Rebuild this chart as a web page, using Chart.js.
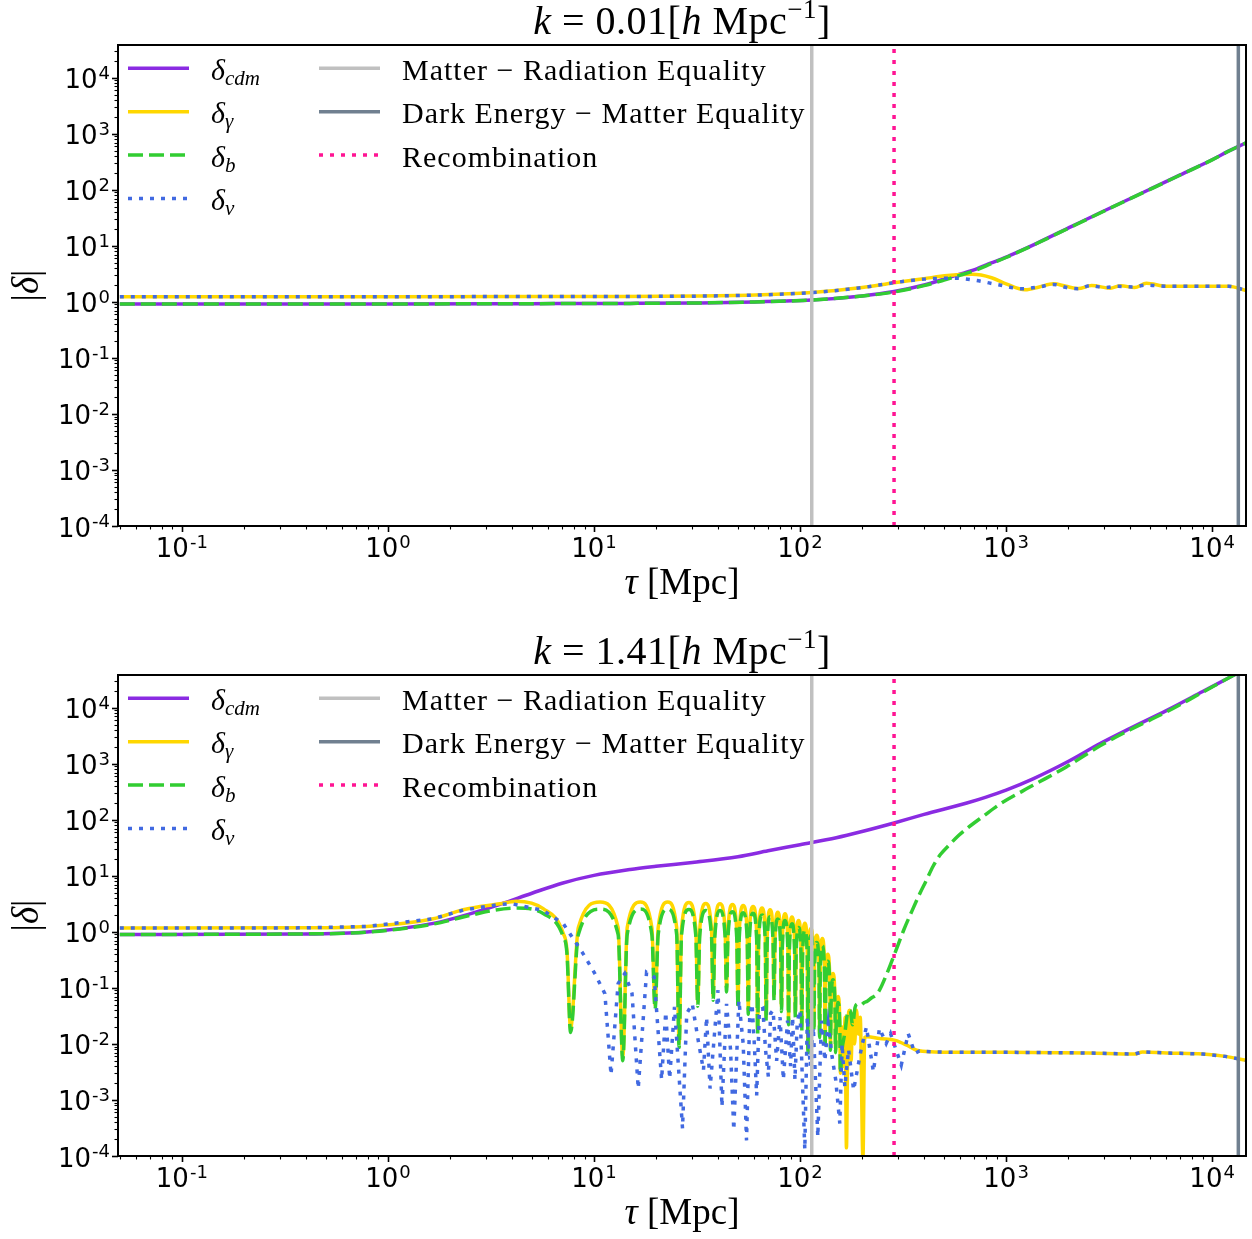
<!DOCTYPE html>
<html>
<head>
<meta charset="utf-8">
<script src="https://cdn.jsdelivr.net/npm/chart.js@4.4.1/dist/chart.umd.min.js"></script>
<style>
  body { margin: 0; background: #fff; }
  canvas { display: block; }
</style>
</head>
<body>
<canvas id="topChart" width="1252" height="630"></canvas>
<canvas id="bottomChart" width="1252" height="609"></canvas>
<script>
// axis ranges and labelled decades
const tauRange = [0.049, 1.46e4];
const deltaRange = [1e-4, 3.85e4];
const tauTickExps = [-1, 0, 1, 2, 3, 4];
const deltaTickExps = [-4, -3, -2, -1, 0, 1, 2, 3, 4];

// epochs in conformal time [Mpc]
const tauEquality = 114;
const tauRecombination = 286;
const tauLambda = 1.34e4;

// ---- k = 0.01 h/Mpc ----
const tauTopCdm = [0.05, 1, 5, 15, 33, 60, 114, 200, 286, 400, 500, 608, 720, 841, 1000, 1150, 1400,
  2070, 2860, 4230, 5000, 7000, 10000, 12000, 14600];
const deltaTopCdm = [0.92, 0.92, 0.93, 0.94, 0.96, 1.0, 1.08, 1.28, 1.53, 2.0, 2.55, 3.2, 3.9, 4.9, 6.3, 7.9, 11,
  22, 39, 77, 103, 185, 345, 490, 690];
const deltaTopB = [0.92, 0.92, 0.93, 0.94, 0.96, 1.0, 1.08, 1.27, 1.5, 1.95, 2.45, 3.05, 3.75, 4.75, 6.2, 7.8, 10.9,
  21.8, 38.6, 76.5, 102, 184, 343, 488, 688];

const tauTopGamma = [0.05, 1, 10, 33, 114, 200, 286, 400, 520, 684, 850, 1000, 1237, 1450, 1700,
  1950, 2240, 2600, 3200, 3600, 4200, 4800, 6000, 12000, 14600];
const deltaTopGamma = [1.24, 1.24, 1.25, 1.27, 1.47, 1.8, 2.2, 2.6, 2.95, 3.1, 2.7, 2.1, 1.64, 1.85, 2.1,
  1.9, 1.73, 1.96, 1.75, 1.95, 1.8, 2.15, 1.9, 1.9, 1.6];

const tauTopNu = [0.05, 1, 10, 33, 114, 200, 286, 400, 560, 700, 930, 1200, 1450, 1700, 1970,
  2230, 2560, 3000, 3500, 4100, 4800, 6000, 12000, 14600];
const deltaTopNu = [1.24, 1.24, 1.25, 1.27, 1.47, 1.8, 2.2, 2.55, 2.65, 2.45, 2.0, 1.72, 1.85, 2.05, 1.8,
  1.72, 1.95, 1.8, 1.9, 1.85, 2.0, 1.9, 1.9, 1.6];

// ---- k = 1.41 h/Mpc ----
const tauBotCdm = [0.05, 0.37, 0.79, 1.66, 2.5, 3.5, 5, 7, 10, 15, 20, 30, 50, 70, 100, 150, 200, 286,
  400, 645, 800, 1000, 1352, 2000, 2860, 4000, 6030, 9000, 12700, 14600];
const deltaBotCdm = [0.9, 0.92, 1.0, 1.42, 2.1, 3.1, 4.9, 7.4, 10.2, 13, 14.8, 17.4, 22, 28, 36, 48, 62, 88,
  125, 200, 255, 340, 540, 1100, 2300, 4300, 9000, 1.95e4, 3.8e4, 5.0e4];

// acoustic lobes: dip, shoulder, crest, shoulder
const tauLobes = [
  7.7, 8.4, 10.7, 13.1,    13.8, 14.5, 16.8, 19.1,    19.8, 20.5, 22.8, 25.2,
  25.9, 26.6, 28.9, 31.2,  31.9, 32.6, 34.9, 37.2,    37.9, 38.6, 40.9, 43.3,
  44.0, 44.7, 47.0, 49.3,  50.0, 50.7, 53.0, 55.4,    56.1, 56.8, 59.2, 61.6,
  62.3, 63.0, 65.4, 67.8,  68.5, 69.3, 71.6, 74.0,    74.8, 75.6, 78.0, 80.5,
  81.3, 82.1, 84.6, 87.2,  88.0, 88.8, 91.4, 94.1,    94.9, 95.8, 98.4, 101.1,
  102.0, 102.9, 105.6, 108.4, 109.3, 110.2, 113.0, 115.9, 116.8, 117.7, 120.6, 123.6,
  124.5, 125.4, 128.4, 131.4, 132.4, 133.4, 136.4, 139.5, 140.5, 141.5, 144.6, 147.8,
  148.8, 149.8, 153.0, 156.0];
const gammaLobes = [
  0.019, 1.2, 3.4, 1.2,    0.0058, 1.2, 3.4, 1.2,     0.049, 1.2, 3.4, 1.2,
  0.0102, 1.15, 3.35, 1.15, 0.055, 1.1, 3.2, 1.1,     0.07, 1.1, 3.18, 1.1,
  0.1, 1.05, 3.09, 1.05,   0.05, 1.0, 2.97, 1.0,      0.04, 1.0, 2.85, 1.0,
  0.018, 0.92, 2.66, 0.92, 0.03, 0.86, 2.49, 0.86,    0.07, 0.78, 2.25, 0.78,
  0.045, 0.73, 2.11, 0.73, 0.026, 0.64, 1.84, 0.64,   0.035, 0.56, 1.6, 0.56,
  0.02, 0.5, 1.43, 0.5,    0.008, 0.4, 1.15, 0.4,     0.02, 0.3, 0.87, 0.3,
  0.015, 0.26, 0.76, 0.26, 0.01, 0.14, 0.4, 0.14,     0.009, 0.063, 0.18, 0.063,
  0.008, 0.025, 0.07, 0.025];
const baryonLobes = [
  0.016, 0.9, 2.55, 0.9,   0.005, 0.9, 2.55, 0.9,     0.042, 0.9, 2.55, 0.9,
  0.0087, 0.87, 2.5, 0.87, 0.047, 0.83, 2.4, 0.83,    0.06, 0.83, 2.4, 0.83,
  0.085, 0.8, 2.3, 0.8,    0.043, 0.77, 2.2, 0.77,    0.034, 0.75, 2.15, 0.75,
  0.015, 0.7, 2.0, 0.7,    0.026, 0.65, 1.87, 0.65,   0.06, 0.6, 1.7, 0.6,
  0.038, 0.55, 1.6, 0.55,  0.022, 0.48, 1.4, 0.48,    0.03, 0.42, 1.2, 0.42,
  0.017, 0.37, 1.07, 0.37, 0.007, 0.3, 0.86, 0.3,     0.017, 0.23, 0.65, 0.23,
  0.013, 0.2, 0.57, 0.2,   0.0085, 0.1, 0.3, 0.1,     0.0077, 0.05, 0.14, 0.05,
  0.007, 0.02, 0.055, 0.02];

const tauGammaHead = [0.05, 0.37, 0.79, 1.66, 2.32, 3.5, 4.2, 5.67, 7.1, 7.4];
const gammaHead = [1.17, 1.18, 1.25, 1.72, 2.49, 3.18, 3.54, 2.6, 0.93, 0.45];
const tauGammaTail = [157, 160, 163, 165.5, 168, 171, 174, 177, 180, 184, 188, 192, 196, 202, 206,
  212, 243, 290, 330, 368, 450, 535, 1000, 2500, 4200, 4600, 6000, 9000, 11600, 14600];
const gammaTail = [0.003, 0.02, 0.004, 0.03, 1.4e-4, 0.025, 0.04, 0.005, 0.035, 0.01, 0.04, 0.015, 0.03, 9e-5, 0.013,
  0.0135, 0.0125, 0.0116, 0.0095, 0.0077, 0.0072, 0.0071, 0.0071, 0.0069, 0.0066, 0.0072, 0.0069, 0.0066, 0.006, 0.0051];

const tauBaryonHead = [0.05, 0.37, 0.79, 1.66, 2.32, 3.2, 4.2, 5.7, 7.1, 7.4];
const baryonHead = [0.9, 0.92, 0.99, 1.38, 1.84, 2.4, 2.66, 2.1, 0.81, 0.4];
const tauBaryonTail = [157, 160, 165, 170, 175, 180, 185, 191, 198, 205, 212, 222, 233, 243, 262,
  290, 318, 350, 381, 410, 443, 480, 535, 590, 645, 777, 941, 1352, 1960, 2860, 4000, 6030, 9000, 12700, 14600];
const baryonTail = [0.003, 0.008, 0.0155, 0.035, 0.04, 0.022, 0.045, 0.052, 0.05, 0.055, 0.058, 0.066, 0.074, 0.091, 0.168,
  0.436, 1.06, 2.4, 4.8, 8.3, 15, 24, 37, 53, 70, 117, 195, 413, 880, 2100, 4050, 8500, 1.9e4, 3.8e4, 5.0e4];

const tauBotNu = [0.05, 0.37, 0.79, 1.66, 2.32, 3.5, 4.0, 5.67, 7.1, 8.85,
  10.1, 11.3, 12.1, 13.1, 14.1, 15.3, 16.4, 18.0, 19.6, 21.3,
  22.3, 23.3, 24.6, 26.9, 28.2, 30.0, 32.0, 34.0, 35.2, 36.6,
  40.0, 41.8, 44.0, 46.0, 47.7, 50.5, 53.0, 55.0, 57.0, 58.5,
  60.0, 61.6, 63.5, 66.0, 68.0, 70.2, 72.0, 74.0, 77.0, 80.0,
  83.0, 87.0, 90.0, 92.0, 94.5, 97.0, 100.0, 105.5, 108.5, 112,
  116, 122, 127, 132, 137, 143, 149, 156, 160, 165,
  172, 182, 199, 210, 227, 243, 262, 275, 310, 335,
  361, 380, 450, 535, 1000, 2500, 4200, 4600, 6000, 9000,
  11600, 14600];
const deltaBotNu = [1.17, 1.18, 1.25, 1.72, 2.45, 3.1, 3.18, 2.42, 1.4, 0.41,
  0.18, 0.079, 0.0028, 0.12, 0.18, 0.08, 0.0016, 0.19, 0.156, 0.0023,
  0.037, 0.0024, 0.046, 3.1e-4, 0.035, 0.052, 0.012, 0.0034, 0.03, 0.0016,
  0.091, 7.6e-4, 0.052, 0.008, 2.9e-4, 0.06, 0.01, 1.9e-4, 0.03, 0.052,
  0.01, 0.0012, 0.04, 0.043, 0.008, 0.0026, 0.035, 0.04, 0.005, 0.03,
  0.0023, 0.026, 0.004, 0.03, 0.0023, 0.025, 0.04, 1.3e-4, 0.03, 0.004,
  0.02, 2.2e-4, 0.026, 0.005, 0.023, 0.006, 0.0023, 3.8e-4, 0.01, 0.0017,
  0.008, 0.0015, 0.0088, 0.02, 0.0032, 0.019, 0.0102, 0.0153, 0.0042, 0.0153,
  0.0068, 0.0075, 0.0072, 0.0071, 0.0071, 0.0069, 0.0066, 0.0072, 0.0069, 0.0066,
  0.006, 0.0051];

const colors = {
  cdm: '#8a2be2', gamma: '#ffd700', b: '#32cd32', nu: '#4169e1',
  eq: '#c0c0c0', lambda: '#708090', rec: '#ff1493'
};
const LW = 3.5;
const DASH = [15, 6];
const DOT = [4, 7];
const SERIF = '"Liberation Serif", "DejaVu Serif", serif';
const SANS = '"DejaVu Sans", sans-serif';

function pts(taus, vals) {
  return taus.map((t, i) => ({ x: t, y: vals[i] }));
}

function curve(taus, vals, color, dash, order, smooth) {
  return {
    data: pts(taus, vals),
    borderColor: color,
    borderWidth: LW,
    borderDash: dash,
    pointRadius: 0,
    fill: false,
    order: order,
    clip: 0,
    tension: 0,
    cubicInterpolationMode: smooth ? 'monotone' : 'default'
  };
}

function vline(tau, color, dash, order) {
  return curve([tau, tau], deltaRange, color, dash, order, false);
}

function fontFor(s) {
  return (s.italic ? 'italic ' : '') + s.size + 'px ' + SERIF;
}
function richWidth(ctx, segs) {
  let w = 0;
  for (const s of segs) { ctx.font = fontFor(s); w += ctx.measureText(s.t).width; }
  return w;
}
function drawRich(ctx, segs, x, y, center) {
  let cx = center ? x - richWidth(ctx, segs) / 2 : x;
  for (const s of segs) {
    ctx.font = fontFor(s);
    ctx.fillText(s.t, cx, y + (s.dy || 0));
    cx += ctx.measureText(s.t).width;
  }
}

// major/minor tick marks on a log axis, pointing outwards
function logTicks(ctx, scale, area, horizontal) {
  const lo = Math.floor(Math.log10(scale.min));
  const hi = Math.ceil(Math.log10(scale.max));
  ctx.strokeStyle = '#000';
  for (let e = lo; e <= hi; e++) {
    for (let m = 1; m < 10; m++) {
      const v = m * Math.pow(10, e);
      if (v < scale.min || v > scale.max) continue;
      const p = Math.round(scale.getPixelForValue(v)) + 0.5;
      const len = m === 1 ? 6 : 3.5;
      ctx.lineWidth = m === 1 ? 1.6 : 1.1;
      ctx.beginPath();
      if (horizontal) { ctx.moveTo(p, area.bottom); ctx.lineTo(p, area.bottom + len); }
      else { ctx.moveTo(area.left, p); ctx.lineTo(area.left - len, p); }
      ctx.stroke();
    }
  }
}

// "10" with a raised exponent at each labelled decade
function decadeLabels(ctx, scale, area, exps, horizontal) {
  ctx.fillStyle = '#000';
  for (const e of exps) {
    const p = scale.getPixelForValue(Math.pow(10, e));
    const sup = e < 0 ? '-' + (-e) : String(e);
    ctx.font = '26px ' + SANS;
    const wb = ctx.measureText('10').width;
    ctx.font = '18px ' + SANS;
    const we = ctx.measureText(sup).width;
    let x0, base;
    if (horizontal) { x0 = p - (wb + we + 1) / 2; base = area.bottom + 31; }
    else { x0 = area.left - 8 - (wb + we + 1); base = p + 10.5; }
    ctx.font = '26px ' + SANS;
    ctx.fillText('10', x0, base);
    ctx.font = '18px ' + SANS;
    ctx.fillText(sup, x0 + wb + 1, base - 9.5);
  }
}

// legend entries: column, row, colour, dash, label
const legendItems = [
  { col: 0, row: 0, color: colors.cdm, dash: [], sub: 'cdm' },
  { col: 0, row: 1, color: colors.gamma, dash: [], sub: 'γ' },
  { col: 0, row: 2, color: colors.b, dash: DASH, sub: 'b' },
  { col: 0, row: 3, color: colors.nu, dash: DOT, sub: 'ν' },
  { col: 1, row: 0, color: colors.eq, dash: [], text: 'Matter − Radiation Equality' },
  { col: 1, row: 1, color: colors.lambda, dash: [], text: 'Dark Energy − Matter Equality' },
  { col: 1, row: 2, color: colors.rec, dash: DOT, text: 'Recombination' }
];

const decor = {
  id: 'decor',
  afterDraw(chart, args, opts) {
    const ctx = chart.ctx;
    const a = chart.chartArea;
    ctx.save();
    logTicks(ctx, chart.scales.x, a, true);
    logTicks(ctx, chart.scales.y, a, false);
    decadeLabels(ctx, chart.scales.x, a, tauTickExps, true);
    decadeLabels(ctx, chart.scales.y, a, deltaTickExps, false);
    ctx.lineWidth = 2;
    ctx.strokeStyle = '#000';
    ctx.setLineDash([]);
    ctx.strokeRect(a.left, a.top, a.right - a.left, a.bottom - a.top);

    ctx.fillStyle = '#000';
    ctx.textBaseline = 'alphabetic';
    const mid = (a.left + a.right) / 2;
    // title
    ctx.letterSpacing = '0.5px';
    drawRich(ctx, [
      { t: 'k', italic: true, size: 40 },
      { t: ' = ' + opts.k + '[', size: 40 },
      { t: 'h', italic: true, size: 40 },
      { t: ' Mpc', size: 40 },
      { t: '−1', size: 27, dy: -16 },
      { t: ']', size: 40 }
    ], mid, 34, true);
    ctx.letterSpacing = '0px';
    // x label
    drawRich(ctx, [
      { t: 'τ', italic: true, size: 37 },
      { t: ' [Mpc]', size: 37 }
    ], mid, a.bottom + 68, true);
    // y label
    ctx.save();
    ctx.translate(38, (a.top + a.bottom) / 2);
    ctx.rotate(-Math.PI / 2);
    drawRich(ctx, [
      { t: '|', size: 37 },
      { t: 'δ', italic: true, size: 37 },
      { t: '|', size: 37 }
    ], 0, 0, true);
    ctx.restore();

    // legend
    const lineX = [[128, 189], [319, 380]];
    const textX = [211, 402];
    for (const it of legendItems) {
      const y = a.top + 23.3 + it.row * 43.4;
      ctx.strokeStyle = it.color;
      ctx.lineWidth = LW;
      ctx.setLineDash(it.dash);
      ctx.beginPath();
      ctx.moveTo(lineX[it.col][0], y);
      ctx.lineTo(lineX[it.col][1], y);
      ctx.stroke();
      ctx.setLineDash([]);
      if (it.sub) {
        drawRich(ctx, [
          { t: 'δ', italic: true, size: 30 },
          { t: it.sub, italic: true, size: 21, dy: 5 }
        ], textX[it.col], y + 11.5, false);
      } else {
        ctx.letterSpacing = '1px';
        drawRich(ctx, [{ t: it.text, size: 30 }], textX[it.col], y + 11.5, false);
        ctx.letterSpacing = '0px';
      }
    }
    ctx.restore();
  }
};

function makeChart(id, k, datasets, xAxisHeight) {
  return new Chart(document.getElementById(id), {
    type: 'line',
    data: { datasets: datasets },
    plugins: [decor],
    options: {
      responsive: false,
      animation: false,
      events: [],
      layout: { padding: { top: 45, right: 6, left: 0, bottom: 0 } },
      plugins: { legend: { display: false }, tooltip: { enabled: false }, decor: { k: k } },
      scales: {
        x: {
          type: 'logarithmic',
          min: tauRange[0], max: tauRange[1],
          grid: { display: false, drawTicks: false, tickLength: 0 },
          border: { display: false },
          ticks: { display: false },
          afterFit: s => { s.height = xAxisHeight; }
        },
        y: {
          type: 'logarithmic',
          min: deltaRange[0], max: deltaRange[1],
          grid: { display: false, drawTicks: false, tickLength: 0 },
          border: { display: false },
          ticks: { display: false },
          afterFit: s => { s.width = 118; }
        }
      }
    }
  });
}

makeChart('topChart', '0.01', [
  curve(tauTopCdm, deltaTopCdm, colors.cdm, [], 7, true),
  curve(tauTopGamma, deltaTopGamma, colors.gamma, [], 6, true),
  curve(tauTopCdm, deltaTopB, colors.b, DASH, 5, true),
  curve(tauTopNu, deltaTopNu, colors.nu, DOT, 4, true),
  vline(tauEquality, colors.eq, [], 3),
  vline(tauLambda, colors.lambda, [], 2),
  vline(tauRecombination, colors.rec, DOT, 1)
], 104);

makeChart('bottomChart', '1.41', [
  curve(tauBotCdm, deltaBotCdm, colors.cdm, [], 7, true),
  curve(tauGammaHead.concat(tauLobes, tauGammaTail), gammaHead.concat(gammaLobes, gammaTail), colors.gamma, [], 6, true),
  curve(tauBaryonHead.concat(tauLobes, tauBaryonTail), baryonHead.concat(baryonLobes, baryonTail), colors.b, DASH, 5, true),
  curve(tauBotNu, deltaBotNu, colors.nu, DOT, 4, false),
  vline(tauEquality, colors.eq, [], 3),
  vline(tauLambda, colors.lambda, [], 2),
  vline(tauRecombination, colors.rec, DOT, 1)
], 83);
</script>
</body>
</html>
